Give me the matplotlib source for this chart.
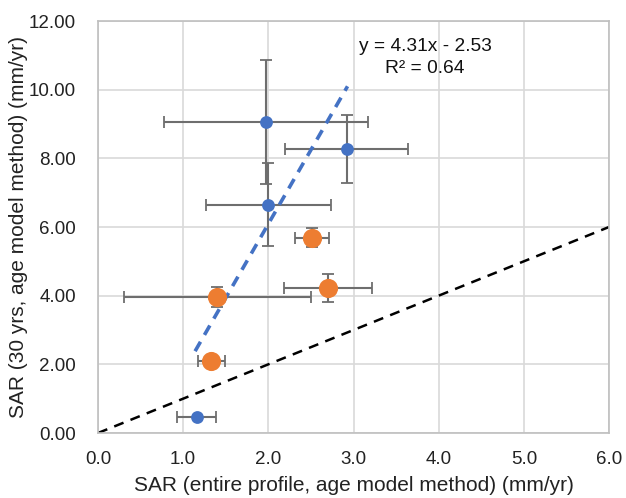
import matplotlib
matplotlib.use("Agg")
import matplotlib.pyplot as plt
import numpy as np

plt.rcParams['font.family'] = ['Liberation Sans', 'DejaVu Sans']

# Blue series (with trendline)
blue_x = [1.97, 2.92, 2.00, 1.16]
blue_y = [9.05, 8.27, 6.65, 0.47]
blue_xerr = [1.20, 0.72, 0.73, 0.23]
blue_yerr = [1.80, 0.99, 1.20, 0.0]

# Orange series
orange_x = [2.51, 2.70, 1.40, 1.33]
orange_y = [5.69, 4.23, 3.96, 2.10]
orange_xerr = [0.20, 0.52, 1.10, 0.16]
orange_yerr = [0.28, 0.40, 0.30, 0.0]

slope, intercept, r2 = 4.31, -2.53, 0.64

xticks = [0.0, 1.0, 2.0, 3.0, 4.0, 5.0, 6.0]
yticks = [0, 2, 4, 6, 8, 10, 12]

fig = plt.figure(figsize=(6.26, 4.98), dpi=100)
ax = fig.add_axes([98/626, 1-433/498, (609-98)/626, (433-21)/498])

grid_c = '#d9d9d9'
ax.set_xlim(0, 6)
ax.set_ylim(0, 12)
ax.set_xticks(xticks)
ax.set_yticks(yticks)
ax.set_xticklabels([f"{v:.1f}" for v in xticks])
ax.set_yticklabels([f"{v:.2f}" for v in yticks])
ax.grid(True, color=grid_c, linewidth=1.2)
ax.set_axisbelow(True)
for s in ax.spines.values():
    s.set_color('#bfbfbf')
    s.set_linewidth(1.2)
ax.tick_params(length=0, labelsize=13.5, colors='#222222')
ax.tick_params(axis='x', pad=13)
ax.tick_params(axis='y', pad=16)

# 1:1 line
ax.plot([0, 6], [0, 6], linestyle=(0, (4, 3)), color='black', linewidth=1.8, zorder=2)

err_c = '#6e6e6e'
ax.errorbar(blue_x, blue_y, xerr=blue_xerr, yerr=blue_yerr, fmt='none',
            ecolor=err_c, elinewidth=1.5, capsize=4, capthick=1.3, zorder=3)
ax.errorbar(orange_x, orange_y, xerr=orange_xerr, yerr=orange_yerr, fmt='none',
            ecolor=err_c, elinewidth=1.5, capsize=4, capthick=1.3, zorder=3)

# trendline
tx = np.array([min(blue_x) - 0.02, max(blue_x) + 0.01])
ax.plot(tx, slope*tx + intercept, linestyle=(0, (3, 2.2)), color='#4472C4',
        linewidth=2.6, zorder=4)

ax.scatter(blue_x, blue_y, s=85, color='#4472C4', zorder=5, linewidths=0)
ax.scatter(orange_x, orange_y, s=190, color='#ED7D31', zorder=5, linewidths=0)

ax.text(3.84, 11.27, f"y = {slope:.2f}x - {abs(intercept):.2f}", ha='center',
        va='center', fontsize=13.8, color='#111111')
ax.text(3.84, 10.62, f"R² = {r2:.2f}", ha='center', va='center', fontsize=13.8,
        color='#111111')

ax.set_xlabel("SAR (entire profile, age model method) (mm/yr)", fontsize=15,
              color='#222222')
ax.set_ylabel("SAR (30 yrs, age model method) (mm/yr)", fontsize=15,
              color='#222222')
ax.xaxis.set_label_coords(0.5, -(485 - 433) / 412, transform=ax.transAxes)
ax.yaxis.set_label_coords(-(98 - 19) / 511, 0.5, transform=ax.transAxes)
ax.xaxis.label.set_va('center')
ax.yaxis.label.set_va('center')

fig.savefig("out.png", dpi=100)
